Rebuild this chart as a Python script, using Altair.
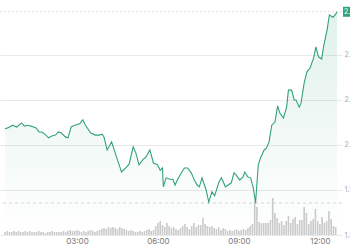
import altair as alt
import pandas as pd

# price series: minutes since midnight and price
price_minutes = [20, 26, 37, 46, 57, 63, 70, 78, 89, 96,
                 102, 111, 117, 124, 132, 139, 145, 154, 160, 167,
                 175, 186, 193, 199, 210, 221, 229, 236, 240, 247,
                 257, 268, 279, 290, 296, 305, 311, 318, 326, 333,
                 342, 350, 359, 365, 370, 372, 378, 387, 393, 398,
                 404, 413, 419, 426, 434, 441, 447, 452, 458, 467,
                 473, 480, 486, 495, 501, 510, 516, 523, 529, 534,
                 542, 549, 553, 560, 566, 572, 577, 579, 583, 588,
                 596, 601, 607, 613, 620, 626, 631, 639, 646, 650,
                 657, 663, 667, 674, 678, 685, 691, 698, 706, 711,
                 717, 724, 728, 736, 741, 749, 754, 758]
prices = [2.036, 2.038, 2.044, 2.040, 2.049, 2.042, 2.044, 2.042, 2.038, 2.029,
          2.029, 2.022, 2.016, 2.020, 2.022, 2.029, 2.027, 2.018, 2.016, 2.040,
          2.044, 2.047, 2.056, 2.044, 2.027, 2.022, 2.022, 2.024, 2.018, 1.989,
          2.007, 1.973, 1.940, 1.951, 1.958, 1.996, 1.982, 1.956, 1.967, 1.973,
          1.989, 1.960, 1.956, 1.944, 1.949, 1.907, 1.927, 1.924, 1.924, 1.911,
          1.924, 1.940, 1.949, 1.949, 1.938, 1.922, 1.911, 1.907, 1.927, 1.900,
          1.873, 1.896, 1.887, 1.916, 1.927, 1.907, 1.911, 1.916, 1.938, 1.933,
          1.922, 1.929, 1.940, 1.929, 1.927, 1.904, 1.871, 1.900, 1.956, 1.971,
          1.989, 1.993, 2.007, 2.044, 2.051, 2.087, 2.071, 2.060, 2.084, 2.122,
          2.122, 2.100, 2.100, 2.084, 2.093, 2.138, 2.162, 2.171, 2.193, 2.218,
          2.196, 2.191, 2.218, 2.256, 2.289, 2.284, 2.289, 2.296]

# volume bars, every 5 minutes from 00:20
volume_start = 20
volume_step = 5
volumes = [3, 4, 3, 3, 4, 3, 4, 3, 3, 4, 3, 4, 3,
           3, 3, 4, 3, 3, 2, 3, 3, 4, 3, 3, 3, 3,
           4, 3, 4, 5, 4, 4, 5, 4, 3, 4, 3, 4, 5,
           4, 3, 4, 5, 6, 7, 6,
           8, 7, 8, 7, 6, 8, 7, 6, 5, 4, 5, 4, 3, 3, 4,
           3, 4, 5, 6, 4, 5, 9, 12,
           14, 10, 8, 12, 9, 7, 8,
           6, 5, 7, 9, 11, 8, 6, 9, 12, 8, 10,
           10, 17, 11, 9,
           8, 9, 7, 6, 8, 5, 7, 6, 4, 5, 4, 5, 6,
           4, 5, 6, 5, 7, 9, 11,
           33, 28, 13, 12, 12, 12, 12, 15, 37, 22, 17, 12, 14, 10, 14, 19, 12, 16,
           18, 11, 15, 15, 28, 22, 11, 14, 16, 26, 14, 11, 18, 12, 14, 24, 16, 9, 8]

low_price = 1.871
price_ticks = [1.8, 1.9, 2.0, 2.1, 2.2]
time_ticks = [180, 360, 540, 720]

assert len(price_minutes) == len(prices)

GREEN = "#33a276"

price_df = pd.DataFrame({"minute": price_minutes, "price": prices})
vol_df = pd.DataFrame({
    "minute": [volume_start + volume_step * i for i in range(len(volumes))],
    "volume": volumes,
})
last_df = price_df.tail(1)
low_df = pd.DataFrame({"price": [low_price]})

x_scale = alt.Scale(domain=[20, 758], nice=False, zero=False)
y_scale = alt.Scale(domain=[1.8, 2.3222], nice=False, zero=False)

x_enc = alt.X("minute:Q", scale=x_scale, title=None,
              axis=alt.Axis(values=time_ticks,
                            labelExpr="(floor(datum.value/60) < 10 ? '0' : '') + floor(datum.value/60) + ':00'",
                            domain=False, ticks=False, grid=False,
                            labelFontSize=8, labelColor="#777", labelPadding=2,
                            labelFont="Inter"))

bars = alt.Chart(vol_df).mark_bar(width=1.6, color="#cacaca").encode(
    x=x_enc,
    y=alt.Y("volume:Q", scale=alt.Scale(domain=[0, 235], nice=False), axis=None),
)

area = alt.Chart(price_df).mark_area(
    color=alt.Gradient(
        gradient="linear",
        stops=[alt.GradientStop(color="rgba(51,162,118,0.15)", offset=0),
               alt.GradientStop(color="rgba(51,162,118,0)", offset=1)],
        x1=1, x2=1, y1=0, y2=1),
).encode(
    x=alt.X("minute:Q", scale=x_scale),
    y=alt.Y("price:Q", scale=y_scale,
            axis=alt.Axis(orient="right", values=price_ticks, format=".2f",
                          domain=False, ticks=False, grid=True, gridColor="#e9e9e9",
                          labelFontSize=7, labelColor="#aaa", labelPadding=2,
                          labelAlign="left", labelFont="Inter"),
            title=None),
    y2=alt.datum(1.8),
)

line = alt.Chart(price_df).mark_line(color=GREEN, strokeWidth=1.1).encode(
    x=alt.X("minute:Q", scale=x_scale),
    y=alt.Y("price:Q", scale=y_scale),
)

low_rule = alt.Chart(low_df).mark_rule(color="#d4d4d4", strokeDash=[3, 3], strokeWidth=1).encode(
    y=alt.Y("price:Q", scale=y_scale),
)

last_rule = alt.Chart(last_df).mark_rule(color="#dcdcdc", strokeDash=[2, 2], strokeWidth=1).encode(
    y=alt.Y("price:Q", scale=y_scale),
)

last_box = alt.Chart(last_df).mark_square(size=100, color=GREEN, opacity=1).encode(
    x=alt.value(348),
    y=alt.Y("price:Q", scale=y_scale),
)

last_text = alt.Chart(last_df).mark_text(align="left", baseline="middle", color="white",
                                         fontSize=7, font="Inter").encode(
    x=alt.value(344),
    y=alt.Y("price:Q", scale=y_scale),
    text=alt.Text("price:Q", format=".3f"),
)

price_layer = alt.layer(area, low_rule, last_rule, line, last_box, last_text)

chart = alt.layer(bars, price_layer).resolve_scale(y="independent").properties(
    width=342,
    height=235,
    autosize=alt.AutoSizeParams(type="none"),
    padding={"left": 0, "top": 0, "right": 8, "bottom": 15},
).configure_view(stroke=None)

chart.save("out.html", embed_options={"renderer": "svg", "actions": False})
